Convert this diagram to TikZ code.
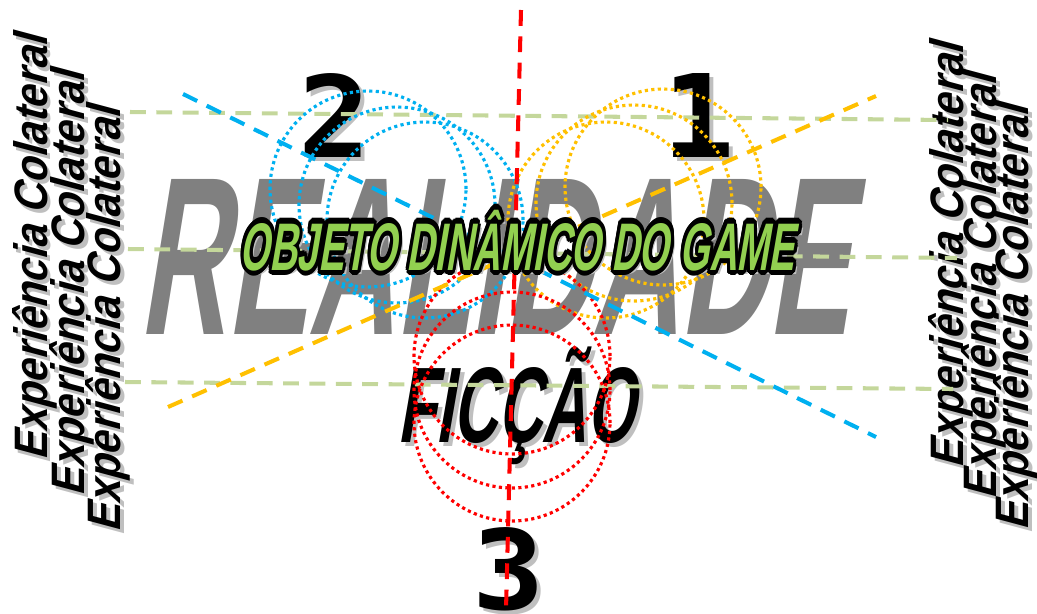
\documentclass[tikz,border=0pt]{standalone}
\usepackage{fontspec}
\usepackage{graphicx}
\usepackage{contour}
\usetikzlibrary{calc}
\newfontfamily\gamefont{Liberation Sans}[UprightFont={* Bold}, FakeSlant=0.3]
\newfontfamily\numfont{DejaVu Sans Mono}[UprightFont={* Bold}]
\definecolor{realgray}{RGB}{128,128,128}
\definecolor{shadowgray}{RGB}{191,191,191}
\definecolor{axisblue}{RGB}{0,176,240}
\definecolor{axisorange}{RGB}{255,192,0}
\definecolor{axisred}{RGB}{255,0,0}
\definecolor{guidegreen}{RGB}{196,215,155}
\definecolor{gamegreen}{RGB}{146,208,80}
\contourlength{0.8pt}

\tikzset{
  guide/.style={line width=2.3pt, dash pattern=on 9pt off 6pt},
  ring/.style={line width=1.8pt, dash pattern=on 1.8pt off 1.9pt},
  word/.style={inner sep=0pt, font=\gamefont},
}
% shadowed word: name, position, options, text
\newcommand{\castword}[4]{%
  \node[word, text=shadowgray, #3] (#1-shadow) at ($#2+(4,4)$) {#4};
  \node[word, #3] (#1) at #2 {#4};}
\newcommand{\sidetext}{\resizebox{8.5cm}{0.68cm}{Experi\smash{ê}ncia Colateral}}

\begin{document}
\begin{tikzpicture}[x=0.02cm, y=-0.02cm]
  \useasboundingbox (0,0) rectangle (1037,613);

  \node[word, text=realgray, anchor=base west] (realidade) at (138,334) {\resizebox{14.2cm}{3.1cm}{REALIDADE}};
  \castword{ficcao}{(397,442)}{anchor=base west}{\resizebox{4.75cm}{1.5cm}{FIC\smash{ÇÃ}O}}

  \castword{num2}{(335,115)}{font=\numfont}{\resizebox{1.45cm}{1.68cm}{2}}
  \castword{num1}{(699,115)}{font=\numfont}{\resizebox{1.45cm}{1.68cm}{1}}
  \castword{num3}{(509,569)}{font=\numfont}{\resizebox{1.45cm}{1.64cm}{3}}

  \foreach \i/\bx/\by in {1/47/461, 2/84/497, 3/120/533}{
    \castword{left\i}{(\bx,\by)}{rotate=90, anchor=base west}{\sidetext}}
  \foreach \i/\bx/\by in {1/963/469, 2/996/500, 3/1028/531}{
    \castword{right\i}{(\bx,\by)}{rotate=90, anchor=base west}{\sidetext}}

  % guide lines and axes
  \coordinate (g1-l) at (130,112); \coordinate (g1-r) at (948,120);
  \coordinate (g2-l) at (128,249); \coordinate (g2-r) at (957,258);
  \coordinate (g3-l) at (125,382); \coordinate (g3-r) at (953,389);
  \coordinate (blue-a) at (183,94);   \coordinate (blue-b) at (876,437);
  \coordinate (orange-a) at (168,407); \coordinate (orange-b) at (876,96);
  \coordinate (red-a) at (521,10);    \coordinate (red-b) at (506,610);

  \draw[guide, guidegreen] (g1-l) -- (g1-r);
  \draw[guide, guidegreen] (g2-l) -- (g2-r);
  \draw[guide, guidegreen] (g3-l) -- (g3-r);

  \foreach \c in {(368,189),(397,205),(425,220)}
    \draw[ring, axisblue] \c circle[radius=1.96cm];
  \foreach \c in {(663,187),(634,203),(606,220)}
    \draw[ring, axisorange] \c circle[radius=1.96cm];
  \foreach \c in {(512,356),(512,390),(512,423)}
    \draw[ring, axisred] \c circle[radius=1.96cm];

  \draw[guide, axisblue] (blue-a) -- (blue-b);
  \draw[guide, axisorange] (orange-a) -- (orange-b);
  \draw[guide, axisred] (red-a) -- (red-b);

  \node[word, text=shadowgray, anchor=base west] (objeto-shadow) at (243,274) {\resizebox{11.1cm}{0.94cm}{OBJETO DIN\smash{Â}MICO DO GAME}};
  \node[word, anchor=base west] (objeto-depth) at (236,268) {\resizebox{11.1cm}{0.94cm}{OBJETO DIN\smash{Â}MICO DO GAME}};
  \node[word, text=gamegreen, anchor=base west] (objeto) at (239,270) {\resizebox{11.1cm}{0.94cm}{\contour{black}{OBJETO DIN\smash{Â}MICO DO GAME}}};
\end{tikzpicture}
\end{document}
